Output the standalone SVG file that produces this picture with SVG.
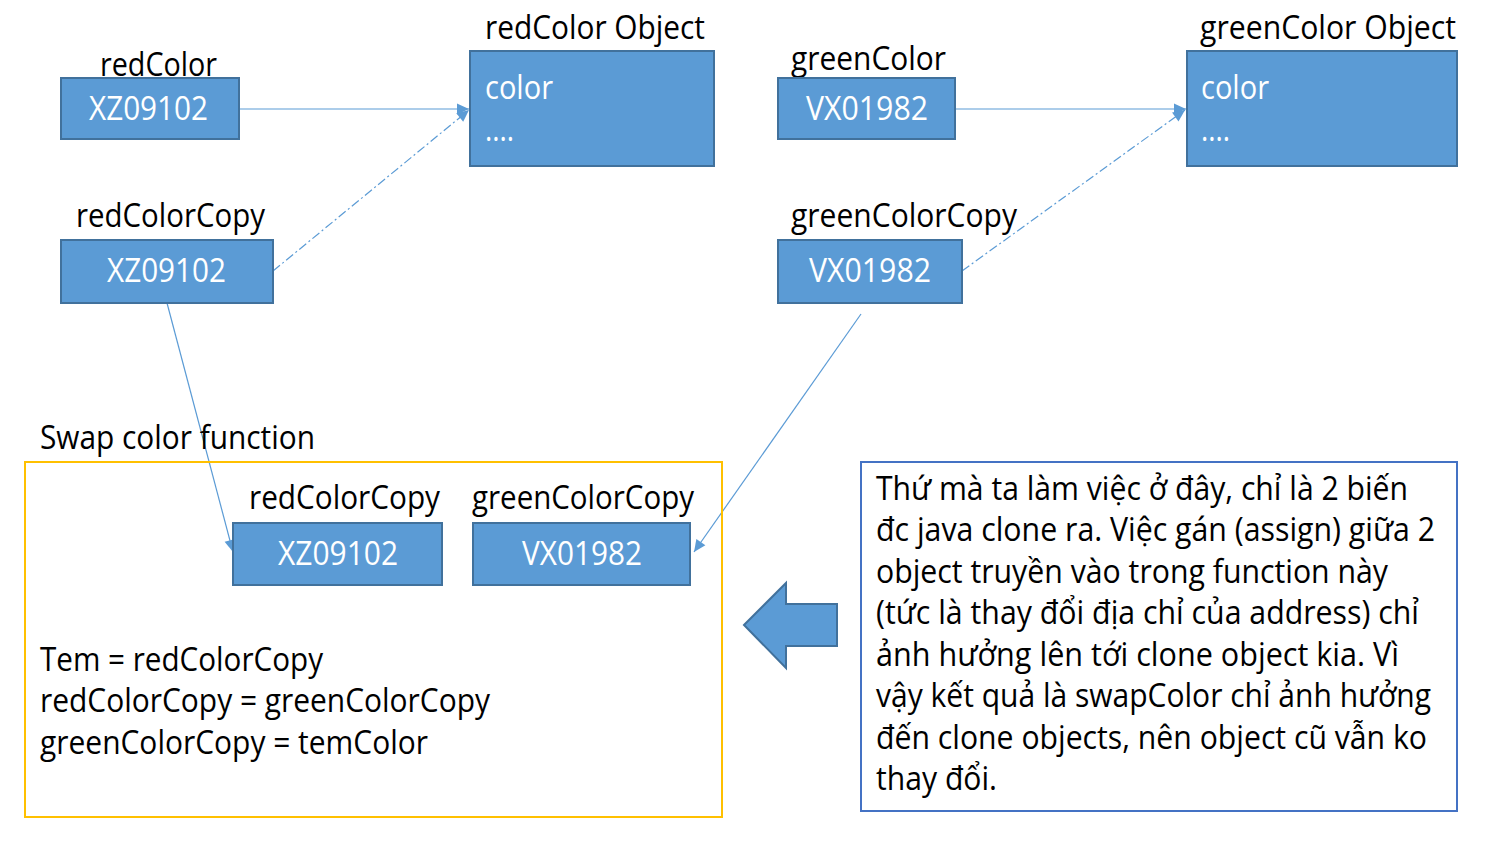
<svg xmlns="http://www.w3.org/2000/svg" width="1486" height="850" viewBox="0 0 1486 850">
<style>
text{font-family:"Open Sans","Noto Sans","Liberation Sans",sans-serif;font-size:32px;fill:#000}
.w{fill:#fff}
.box{fill:#5B9BD5;stroke:#41719C;stroke-width:2}
.ln{fill:none;stroke:#5B9BD5;stroke-width:1.2}
.dd{stroke-dasharray:9 3 2 3}
</style>
<defs>
<marker id="ah" markerUnits="userSpaceOnUse" markerWidth="14" markerHeight="14" viewBox="0 0 14 14" refX="13" refY="7" orient="auto">
<path d="M1,1.5 L13,7 L1,12.5 Z" fill="#5B9BD5"/>
</marker>
</defs>
<rect width="1486" height="850" fill="#fff"/>
<g id="connectors">
<line class="ln" x1="240" y1="109" x2="469" y2="109" marker-end="url(#ah)"/>
<line class="ln dd" x1="273" y1="271" x2="469" y2="110" marker-end="url(#ah)"/>
<line class="ln" x1="956" y1="109" x2="1186" y2="109" marker-end="url(#ah)"/>
<line class="ln dd" x1="962" y1="271" x2="1185" y2="110" marker-end="url(#ah)"/>
<line class="ln" x1="167" y1="303" x2="233" y2="552" marker-end="url(#ah)"/>
<line class="ln" x1="861" y1="314" x2="694" y2="552" marker-end="url(#ah)"/>
</g>
<g id="redColor">
<text x="100" y="76" textLength="117" lengthAdjust="spacingAndGlyphs">redColor</text>
<rect class="box" x="61" y="78" width="178" height="61"/>
<text class="w" x="89" y="120" textLength="119" lengthAdjust="spacingAndGlyphs">XZ09102</text>
</g>
<g id="redColorObject">
<text x="485" y="39" textLength="220" lengthAdjust="spacingAndGlyphs">redColor Object</text>
<rect class="box" x="470" y="51" width="244" height="115"/>
<text class="w" x="485" y="99" textLength="68" lengthAdjust="spacingAndGlyphs">color</text>
<text class="w" x="485" y="141" textLength="29" lengthAdjust="spacingAndGlyphs">....</text>
</g>
<g id="redColorCopy">
<text x="76" y="227" textLength="189" lengthAdjust="spacingAndGlyphs">redColorCopy</text>
<rect class="box" x="61" y="240" width="212" height="63"/>
<text class="w" x="107" y="282" textLength="119" lengthAdjust="spacingAndGlyphs">XZ09102</text>
</g>
<g id="greenColor">
<text x="791" y="70" textLength="155" lengthAdjust="spacingAndGlyphs">greenColor</text>
<rect class="box" x="778" y="78" width="177" height="61"/>
<text class="w" x="806" y="120" textLength="122" lengthAdjust="spacingAndGlyphs">VX01982</text>
</g>
<g id="greenColorObject">
<text x="1200" y="39" textLength="256" lengthAdjust="spacingAndGlyphs">greenColor Object</text>
<rect class="box" x="1187" y="51" width="270" height="115"/>
<text class="w" x="1201" y="99" textLength="68" lengthAdjust="spacingAndGlyphs">color</text>
<text class="w" x="1201" y="141" textLength="29" lengthAdjust="spacingAndGlyphs">....</text>
</g>
<g id="greenColorCopy">
<text x="791" y="227" textLength="226" lengthAdjust="spacingAndGlyphs">greenColorCopy</text>
<rect class="box" x="778" y="240" width="184" height="63"/>
<text class="w" x="809" y="282" textLength="122" lengthAdjust="spacingAndGlyphs">VX01982</text>
</g>
<g id="swapFunction">
<text x="40" y="449" textLength="275" lengthAdjust="spacingAndGlyphs">Swap color function</text>
<rect x="25" y="462" width="697" height="355" fill="none" stroke="#FFC000" stroke-width="2"/>
<text x="40" y="671" textLength="283" lengthAdjust="spacingAndGlyphs">Tem = redColorCopy</text>
<text x="40" y="712" textLength="450" lengthAdjust="spacingAndGlyphs">redColorCopy = greenColorCopy</text>
<text x="40" y="754" textLength="388" lengthAdjust="spacingAndGlyphs">greenColorCopy = temColor</text>
</g>
<g id="innerRedCopy">
<text x="249" y="509" textLength="191" lengthAdjust="spacingAndGlyphs">redColorCopy</text>
<rect class="box" x="233" y="523" width="209" height="62"/>
<text class="w" x="278" y="565" textLength="120" lengthAdjust="spacingAndGlyphs">XZ09102</text>
</g>
<g id="innerGreenCopy">
<text x="472" y="509" textLength="222" lengthAdjust="spacingAndGlyphs">greenColorCopy</text>
<rect class="box" x="473" y="523" width="217" height="62"/>
<text class="w" x="522" y="565" textLength="120" lengthAdjust="spacingAndGlyphs">VX01982</text>
</g>
<g id="blockArrow">
<path class="box" d="M744,625 L786,583 L786,604 L837,604 L837,646 L786,646 L786,668 Z"/>
</g>
<g id="note">
<rect x="861" y="462" width="596" height="349" fill="none" stroke="#4472C4" stroke-width="2"/>
<text x="876" y="500" textLength="532" lengthAdjust="spacingAndGlyphs">Thứ mà ta làm việc ở đây, chỉ là 2 biến</text>
<text x="876" y="541" textLength="559" lengthAdjust="spacingAndGlyphs">đc java clone ra. Việc gán (assign) giữa 2</text>
<text x="876" y="583" textLength="512" lengthAdjust="spacingAndGlyphs">object truyền vào trong function này</text>
<text x="876" y="624" textLength="543" lengthAdjust="spacingAndGlyphs">(tức là thay đổi địa chỉ của address) chỉ</text>
<text x="876" y="666" textLength="523" lengthAdjust="spacingAndGlyphs">ảnh hưởng lên tới clone object kia. Vì</text>
<text x="876" y="707" textLength="555" lengthAdjust="spacingAndGlyphs">vậy kết quả là swapColor chỉ ảnh hưởng</text>
<text x="876" y="749" textLength="551" lengthAdjust="spacingAndGlyphs">đến clone objects, nên object cũ vẫn ko</text>
<text x="876" y="790" textLength="121" lengthAdjust="spacingAndGlyphs">thay đổi.</text>
</g>
</svg>
